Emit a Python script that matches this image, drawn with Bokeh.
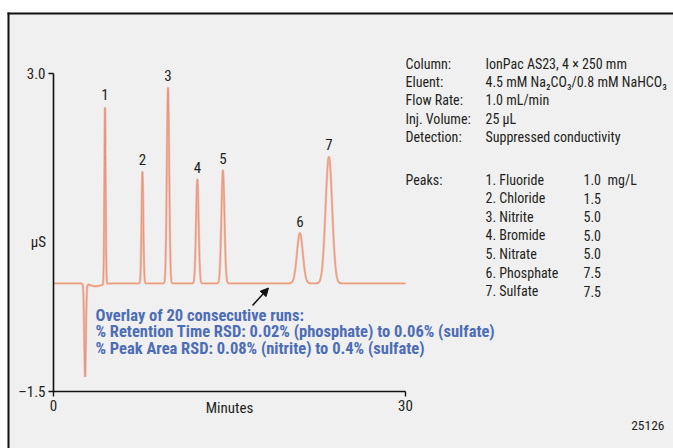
import numpy as np
from bokeh.plotting import figure
from bokeh.models import Range1d, FixedTicker, Label, Arrow, NormalHead, BoxAnnotation, ColumnDataSource
from bokeh.embed import file_html
from bokeh.resources import INLINE

# ---------------- data ----------------
peak_ids = ["1", "2", "3", "4", "5", "6", "7"]
retention_min = [4.39, 7.58, 9.76, 12.26, 14.44, 21.00, 23.47]
peak_height_uS = [2.50, 1.58, 2.77, 1.47, 1.60, 0.71, 1.79]
peak_sigma_min = [0.055, 0.075, 0.10, 0.11, 0.13, 0.25, 0.28]

# system (water) dip and the slight negative drift after it
dip_time_min = [2.69, 3.60]
dip_height_uS = [-1.31, -0.04]
dip_sigma_min = [0.07, 0.50]
baseline_uS = 0.03

x_ticks = [0, 30]
y_ticks = [-1.5, 3.0]
y_tick_text = ["–1.5", "3.0"]

info_keys = ["Column:", "Eluent:", "Flow Rate:", "Inj. Volume:", "Detection:"]
info_values = ["IonPac AS23, 4 × 250 mm",
               "4.5 mM Na₂CO₃/0.8 mM NaHCO₃",
               "1.0 mL/min",
               "25 µL",
               "Suppressed conductivity"]
peak_names = ["1. Fluoride", "2. Chloride", "3. Nitrite", "4. Bromide",
              "5. Nitrate", "6. Phosphate", "7. Sulfate"]
peak_conc = ["1.0", "1.5", "5.0", "5.0", "5.0", "7.5", "7.5"]
conc_unit = "mg/L"

note_lines = ["Overlay of 20 consecutive runs:",
              "% Retention Time RSD: 0.02% (phosphate) to 0.06% (sulfate)",
              "% Peak Area RSD: 0.08% (nitrite) to 0.4% (sulfate)"]
fig_id = "25126"

# ---------------- build the trace from the peak table ----------------
t = np.linspace(0, 30, 9001)
sig = np.full_like(t, baseline_uS)
for rt, h, s in zip(retention_min + dip_time_min,
                    peak_height_uS + dip_height_uS,
                    peak_sigma_min + dip_sigma_min):
    sig += h * np.exp(-0.5 * ((t - rt) / s) ** 2)
src = ColumnDataSource(dict(t=t, y=sig))

# ---------------- geometry: plot area 0-30 min / -1.5-3.0 uS ----------------
W, H = 673, 448
FL, FT, FW, FH = 53, 73, 352, 318
X0, X1 = 0.0, 30.0
Y0, Y1 = -1.5, 3.0

def dx(px):
    return X0 + (px - FL) / FW * (X1 - X0)

def dy(py):
    return Y1 - (py - FT) / FH * (Y1 - Y0)

FONT = "Roboto Condensed"
TXT = "#231F20"
INK = "#111111"

p = figure(width=W, height=H, output_backend="svg", toolbar_location=None,
           x_range=Range1d(dx(0), dx(W)), y_range=Range1d(dy(H), dy(0)),
           min_border=0, min_border_left=0, min_border_right=0,
           min_border_top=0, min_border_bottom=0,
           background_fill_color="white", border_fill_color="white",
           outline_line_color=None)
p.grid.visible = False

# grey panel with black top/left edge
p.add_layout(BoxAnnotation(left=dx(7), right=dx(W), top=dy(12), bottom=dy(H),
                           fill_color="#F0F0F0", fill_alpha=1.0,
                           line_color=None, level="underlay"))
p.add_layout(BoxAnnotation(left=dx(7), right=dx(W), top=dy(12), bottom=dy(14),
                           fill_color=INK, fill_alpha=1.0, line_color=None, level="underlay"))
p.add_layout(BoxAnnotation(left=dx(7), right=dx(9), top=dy(12), bottom=dy(H),
                           fill_color=INK, fill_alpha=1.0, line_color=None, level="underlay"))

# trace (overlay look)
p.line("t", "y", source=src, line_color="#F0BCA9", line_width=2.4)
p.line("t", "y", source=src, line_color="#E5937A", line_width=1.0)

# axes, pinned at the plot corner and limited to the data span
p.xaxis.fixed_location = Y0
p.yaxis.fixed_location = X0
p.xaxis.bounds = (X0, X1)
p.yaxis.bounds = (Y0, Y1)
for ax in (p.xaxis, p.yaxis):
    ax.axis_line_color = INK
    ax.axis_line_width = 1.6
    ax.major_tick_line_color = INK
    ax.major_tick_line_width = 1.4
    ax.major_tick_in = 0
    ax.major_tick_out = 5
    ax.minor_tick_line_color = None
    ax.major_label_text_font = FONT
    ax.major_label_text_font_size = "15px"
    ax.major_label_text_color = TXT
p.xaxis.ticker = FixedTicker(ticks=x_ticks)
p.yaxis.ticker = FixedTicker(ticks=y_ticks)
p.yaxis.major_label_overrides = {k: v for k, v in zip(y_ticks, y_tick_text)}
p.xaxis.major_label_standoff = 3
p.yaxis.major_label_standoff = 3

def lab(x, y, text, size="15px", align="left", color=TXT, style="normal"):
    p.add_layout(Label(x=x, y=y, text=text, text_font=FONT, text_font_size=size,
                       text_align=align, text_baseline="middle", text_color=color,
                       text_font_style=style))

lab((X0 + X1) / 2, dy(407), "Minutes", align="center")
lab(dx(38), dy(241), "µS", align="center")

# peak numbers above each peak
lift = 12 / FH * (Y1 - Y0)
for pid, rt, h in zip(peak_ids, retention_min, peak_height_uS):
    lab(rt, baseline_uS + h + lift, pid, align="center")

# arrow + note
p.add_layout(Arrow(end=NormalHead(size=8, fill_color=INK, line_color=INK),
                   x_start=dx(252), y_start=dy(305), x_end=dx(268), y_end=dy(287.5),
                   line_color=INK, line_width=1.5))
NOTE = "#4D6DB6"
for i, line in enumerate(note_lines):
    lab(dx(95), dy(315 + 16.3 * i), line, size="16.5px", color=NOTE, style="bold")

# conditions block
SZ = "14px"
for i, (k, v) in enumerate(zip(info_keys, info_values)):
    yy = dy(63 + 18.4 * i)
    lab(dx(405), yy, k, size=SZ)
    lab(dx(485), yy, v, size=SZ)
for i, (n, c) in enumerate(zip(peak_names, peak_conc)):
    yy = dy(179 + 18.6 * i)
    if i == 0:
        lab(dx(405), yy, "Peaks:", size=SZ)
        lab(dx(607), yy, conc_unit, size=SZ)
    lab(dx(485), yy, n, size=SZ)
    lab(dx(583), yy, c, size=SZ)

lab(dx(664), dy(425), fig_id, size="13.5px", align="right")

open("out.html", "w").write(file_html(p, INLINE))
